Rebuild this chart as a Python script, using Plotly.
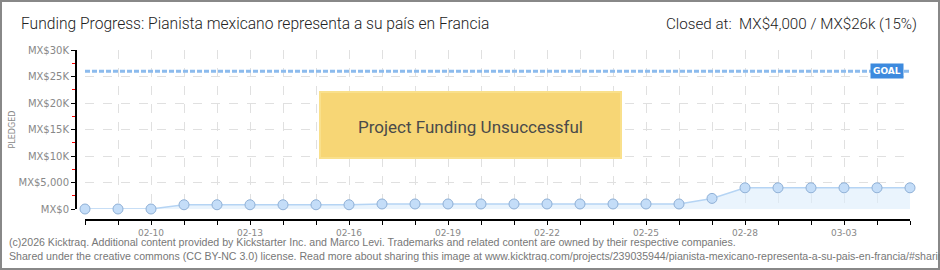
import plotly.graph_objects as go

dates = ["2026-02-08", "2026-02-09", "2026-02-10", "2026-02-11", "2026-02-12", "2026-02-13",
         "2026-02-14", "2026-02-15", "2026-02-16", "2026-02-17", "2026-02-18", "2026-02-19",
         "2026-02-20", "2026-02-21", "2026-02-22", "2026-02-23", "2026-02-24", "2026-02-25",
         "2026-02-26", "2026-02-27", "2026-02-28", "2026-03-01", "2026-03-02", "2026-03-03",
         "2026-03-04", "2026-03-05"]
pledged = [0, 0, 0, 800, 800, 800, 800, 800, 800, 950, 950, 950, 950, 950, 950, 950, 950, 950,
           950, 2000, 4000, 4000, 4000, 4000, 4000, 4000]
goal = 26000
y_tickvals = [0, 5000, 10000, 15000, 20000, 25000, 30000]
y_ticktext = ["MX$0", "MX$5,000", "MX$10K", "MX$15K", "MX$20K", "MX$25K", "MX$30K"]

title_text = "Funding Progress: Pianista mexicano representa a su país en Francia"
closed_text = "Closed at:  MX$4,000 / MX$26k (15%)"
status_text = "Project Funding Unsuccessful"
footer1 = ("(c)2026 Kicktraq. Additional content provided by Kickstarter Inc. and Marco Levi. "
           "Trademarks and related content are owned by their respective companies.")
footer2 = ("Shared under the creative commons (CC BY-NC 3.0) license. Read more about sharing this "
           "image at www.kicktraq.com/projects/239035944/pianista-mexicano-representa-a-su-pais-en-francia/#sharing")

W, H = 940, 270
ML, MR, MT, MB = 76, 30, 50, 50
PW, PH = W - ML - MR, H - MT - MB


def px(x):
    return (x - ML) / PW


def py(y):
    return 1 - (y - MT) / PH


fig = go.Figure()
fig.add_trace(go.Scatter(
    x=dates, y=pledged, mode="lines+markers",
    line=dict(color="#b5d4f4", width=1.5),
    fill="tozeroy", fillcolor="rgba(220,236,252,0.6)",
    marker=dict(size=10, color="#c4ddf8", line=dict(color="#8fb0d6", width=1)),
    cliponaxis=False, hoverinfo="skip", showlegend=False,
))

grid = "#e0e0e0"
fig.update_layout(
    width=W, height=H,
    margin=dict(l=ML, r=MR, t=MT, b=MB),
    paper_bgcolor="white", plot_bgcolor="white",
    xaxis=dict(
        type="date", range=[dates[0], dates[-1]], domain=[px(85), 1],
        anchor="free", position=0,
        tick0="2026-02-10", dtick=3 * 86400000, tickformat="%m-%d",
        ticks="outside", ticklen=4, tickcolor="black", tickwidth=1,
        showline=True, linecolor="black", linewidth=2,
        showgrid=True, gridcolor=grid, griddash="dash", gridwidth=1,
        minor=dict(dtick=86400000, ticks="outside", ticklen=4, tickcolor="black",
                   showgrid=True, gridcolor=grid, griddash="dash"),
        tickfont=dict(family="DejaVu Sans", size=9, color="#888"),
        zeroline=False,
    ),
    yaxis=dict(
        range=[0, 30000], domain=[py(209), 1],
        anchor="free", position=0,
        tickvals=y_tickvals, ticktext=y_ticktext,
        ticks="outside", ticklen=4, tickcolor="black",
        showline=True, linecolor="black", linewidth=2,
        showgrid=True, gridcolor=grid, griddash="dash",
        minor=dict(dtick=2500, ticks="outside", ticklen=3, tickcolor="red", showgrid=False),
        tickfont=dict(family="DejaVu Sans", size=10, color="#888"),
        zeroline=False,
    ),
)

# goal line
fig.add_shape(type="line", xref="x", yref="y", x0=dates[0], x1=dates[-1], y0=goal, y1=goal,
              line=dict(color="#8cbbed", width=3, dash="5px,2px"), layer="above")
fig.add_annotation(xref="paper", yref="y", x=1, y=goal, xanchor="right", yanchor="middle",
                   xshift=-6, text="<b>GOAL</b>", showarrow=False,
                   font=dict(family="DejaVu Sans", size=9, color="white"),
                   bgcolor="#3d8ade", borderpad=2)

# status box
fig.add_shape(type="rect", xref="paper", yref="paper", x0=px(320), x1=px(621),
              y0=py(158), y1=py(92), fillcolor="#f7d675", line=dict(color="#f9e08c", width=2),
              layer="above")
fig.add_annotation(xref="paper", yref="paper", x=px(470), y=py(127), text=status_text,
                   showarrow=False, font=dict(family="Roboto", size=17, color="#4a4a4a"))

# title & closed text
fig.add_annotation(xref="paper", yref="paper", x=px(19), y=py(24), xanchor="left",
                   yanchor="middle", text=title_text, showarrow=False,
                   font=dict(family="Roboto", size=15.6, color="#222", weight=300))
fig.add_annotation(xref="paper", yref="paper", x=px(919), y=py(24), xanchor="right",
                   yanchor="middle", text=closed_text, showarrow=False,
                   font=dict(family="Roboto", size=15.2, color="#222", weight=300))

# PLEDGED label
fig.add_annotation(xref="paper", yref="paper", x=px(5), y=py(130), textangle=-90,
                   text="PLEDGED", showarrow=False,
                   font=dict(family="DejaVu Sans", size=8, color="#888"))

# footer
fig.add_annotation(xref="paper", yref="paper", x=px(7), y=py(242), xanchor="left",
                   yanchor="middle", text=footer1, showarrow=False,
                   font=dict(family="Liberation Sans", size=10.6, color="#777"))
fig.add_annotation(xref="paper", yref="paper", x=px(7), y=py(256), xanchor="left",
                   yanchor="middle", text=footer2, showarrow=False,
                   font=dict(family="Liberation Sans", size=10.6, color="#777"))

# outer frame
fig.add_shape(type="rect", xref="paper", yref="paper", x0=px(1), x1=px(939),
              y0=py(269), y1=py(1), line=dict(color="#888", width=2), layer="above")

fig.write_html("out.html")
